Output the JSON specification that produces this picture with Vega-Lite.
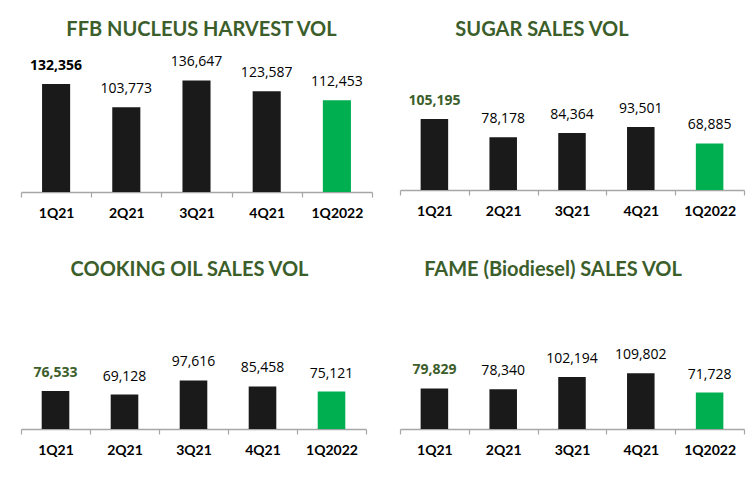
{
  "$schema": "https://vega.github.io/schema/vega-lite/v6.json",
  "padding": {"left": 20, "top": 20, "right": 8, "bottom": 10},
  "background": "white",
  "bounds": "flush",
  "columns": 2,
  "spacing": {"row": 93, "column": 28},
  "datasets": {
    "vol": [
      {"panel": "FFB", "q": "1Q21", "v": 132356},
      {"panel": "FFB", "q": "2Q21", "v": 103773},
      {"panel": "FFB", "q": "3Q21", "v": 136647},
      {"panel": "FFB", "q": "4Q21", "v": 123587},
      {"panel": "FFB", "q": "1Q2022", "v": 112453},
      {"panel": "SUGAR", "q": "1Q21", "v": 105195},
      {"panel": "SUGAR", "q": "2Q21", "v": 78178},
      {"panel": "SUGAR", "q": "3Q21", "v": 84364},
      {"panel": "SUGAR", "q": "4Q21", "v": 93501},
      {"panel": "SUGAR", "q": "1Q2022", "v": 68885},
      {"panel": "OIL", "q": "1Q21", "v": 76533},
      {"panel": "OIL", "q": "2Q21", "v": 69128},
      {"panel": "OIL", "q": "3Q21", "v": 97616},
      {"panel": "OIL", "q": "4Q21", "v": 85458},
      {"panel": "OIL", "q": "1Q2022", "v": 75121},
      {"panel": "FAME", "q": "1Q21", "v": 79829},
      {"panel": "FAME", "q": "2Q21", "v": 78340},
      {"panel": "FAME", "q": "3Q21", "v": 102194},
      {"panel": "FAME", "q": "4Q21", "v": 109802},
      {"panel": "FAME", "q": "1Q2022", "v": 71728}
    ]
  },
  "concat": [
    {
      "data": {"name": "vol"},
      "transform": [{"filter": "datum.panel === 'FFB'"}],
      "width": 351,
      "height": 147,
      "title": {"text": "FFB NUCLEUS HARVEST VOL", "dx": 5, "offset": 5},
      "encoding": {
        "x": {"field": "q", "type": "nominal", "sort": ["1Q21", "2Q21", "3Q21", "4Q21", "1Q2022"], "title": null},
        "y": {"field": "v", "type": "quantitative", "scale": {"domain": [0, 180150]}, "axis": null}
      },
      "layer": [
        {"mark": {"type": "bar", "width": {"band": 0.4}}, "encoding": {"color": {"condition": {"test": "datum.q === '1Q2022'", "value": "#00b050"}, "value": "#1a1a1a"}}},
        {"transform": [{"filter": "datum.q === '1Q21'"}], "mark": {"type": "text", "baseline": "alphabetic", "dy": -14, "font": "Open Sans", "fontSize": 14, "fontWeight": "bold", "color": "#000000"}, "encoding": {"text": {"field": "v", "format": ",d"}}},
        {"transform": [{"filter": "datum.q !== '1Q21'"}], "mark": {"type": "text", "baseline": "alphabetic", "dy": -14, "font": "Open Sans", "fontSize": 14, "color": "#000000"}, "encoding": {"text": {"field": "v", "format": ",d"}}}
      ]
    },
    {
      "data": {"name": "vol"},
      "transform": [{"filter": "datum.panel === 'SUGAR'"}],
      "width": 344,
      "height": 145,
      "title": {"text": "SUGAR SALES VOL", "dx": -30, "offset": 5},
      "encoding": {
        "x": {"field": "q", "type": "nominal", "sort": ["1Q21", "2Q21", "3Q21", "4Q21", "1Q2022"], "title": null},
        "y": {"field": "v", "type": "quantitative", "scale": {"domain": [0, 214800]}, "axis": null}
      },
      "layer": [
        {"mark": {"type": "bar", "width": {"band": 0.4}}, "encoding": {"color": {"condition": {"test": "datum.q === '1Q2022'", "value": "#00b050"}, "value": "#1a1a1a"}}},
        {"transform": [{"filter": "datum.q === '1Q21'"}], "mark": {"type": "text", "baseline": "alphabetic", "dy": -14, "font": "Open Sans", "fontSize": 14, "fontWeight": "bold", "color": "#3b5e2b"}, "encoding": {"text": {"field": "v", "format": ",d"}}},
        {"transform": [{"filter": "datum.q !== '1Q21'"}], "mark": {"type": "text", "baseline": "alphabetic", "dy": -14, "font": "Open Sans", "fontSize": 14, "color": "#000000"}, "encoding": {"text": {"field": "v", "format": ",d"}}}
      ]
    },
    {
      "data": {"name": "vol"},
      "transform": [{"filter": "datum.panel === 'OIL'"}],
      "width": 345,
      "height": 144,
      "title": {"text": "COOKING OIL SALES VOL", "dx": -4, "offset": 5},
      "encoding": {
        "x": {"field": "q", "type": "nominal", "sort": ["1Q21", "2Q21", "3Q21", "4Q21", "1Q2022"], "title": null},
        "y": {"field": "v", "type": "quantitative", "scale": {"domain": [0, 289200]}, "axis": null}
      },
      "layer": [
        {"mark": {"type": "bar", "width": {"band": 0.4}}, "encoding": {"color": {"condition": {"test": "datum.q === '1Q2022'", "value": "#00b050"}, "value": "#1a1a1a"}}},
        {"transform": [{"filter": "datum.q === '1Q21'"}], "mark": {"type": "text", "baseline": "alphabetic", "dy": -14, "font": "Open Sans", "fontSize": 14, "fontWeight": "bold", "color": "#3b5e2b"}, "encoding": {"text": {"field": "v", "format": ",d"}}},
        {"transform": [{"filter": "datum.q !== '1Q21'"}], "mark": {"type": "text", "baseline": "alphabetic", "dy": -14, "font": "Open Sans", "fontSize": 14, "color": "#000000"}, "encoding": {"text": {"field": "v", "format": ",d"}}}
      ]
    },
    {
      "data": {"name": "vol"},
      "transform": [{"filter": "datum.panel === 'FAME'"}],
      "width": 344,
      "height": 144,
      "title": {"text": "FAME (Biodiesel) SALES VOL", "dx": -19, "offset": 5},
      "encoding": {
        "x": {"field": "q", "type": "nominal", "sort": ["1Q21", "2Q21", "3Q21", "4Q21", "1Q2022"], "title": null},
        "y": {"field": "v", "type": "quantitative", "scale": {"domain": [0, 283500]}, "axis": null}
      },
      "layer": [
        {"mark": {"type": "bar", "width": {"band": 0.4}}, "encoding": {"color": {"condition": {"test": "datum.q === '1Q2022'", "value": "#00b050"}, "value": "#1a1a1a"}}},
        {"transform": [{"filter": "datum.q === '1Q21'"}], "mark": {"type": "text", "baseline": "alphabetic", "dy": -14, "font": "Open Sans", "fontSize": 14, "fontWeight": "bold", "color": "#3b5e2b"}, "encoding": {"text": {"field": "v", "format": ",d"}}},
        {"transform": [{"filter": "datum.q !== '1Q21'"}], "mark": {"type": "text", "baseline": "alphabetic", "dy": -14, "font": "Open Sans", "fontSize": 14, "color": "#000000"}, "encoding": {"text": {"field": "v", "format": ",d"}}}
      ]
    }
  ],
  "config": {
    "view": {"stroke": null},
    "scale": {"bandPaddingInner": 0, "bandPaddingOuter": 0},
    "title": {"font": "Lato", "fontSize": 20, "fontWeight": "bold", "color": "#3b5e2b", "anchor": "middle", "frame": "group", "baseline": "alphabetic"},
    "axisX": {
      "domainColor": "#a6a6a6",
      "domainWidth": 1.5,
      "tickColor": "#a6a6a6",
      "tickWidth": 1.2,
      "tickSize": 5,
      "tickBand": "extent",
      "labelFont": "Lato",
      "labelFontSize": 14,
      "labelFontWeight": "bold",
      "labelColor": "#000000",
      "labelBaseline": "alphabetic",
      "labelPadding": 20,
      "labelAngle": 0,
      "grid": false
    }
  }
}
